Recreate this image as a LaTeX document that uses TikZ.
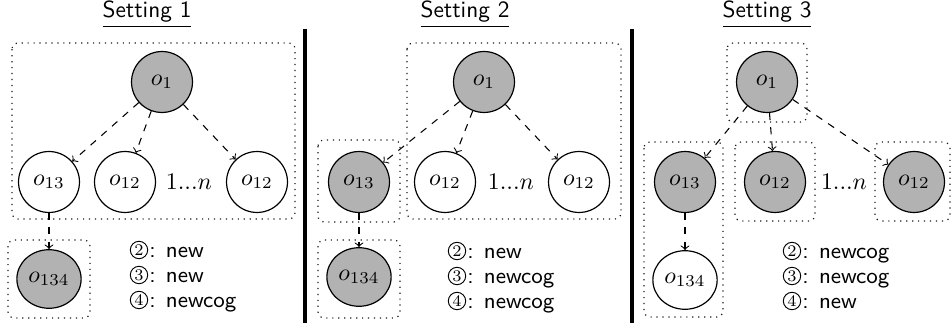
\documentclass[tikz,border=0pt]{standalone}
\usetikzlibrary{shapes.geometric}
\begin{document}
\begin{tikzpicture}[x=0.42pt,y=-0.42pt,
  obs/.style={circle,draw,line width=0.5pt,minimum size=25.6pt,inner sep=0pt},
  big/.style={ellipse,draw,line width=0.5pt,minimum width=27pt,minimum height=24.6pt,inner sep=0pt},
  known/.style={fill=gray!60},
  dep/.style={->,dashed,line width=0.45pt},
  grp/.style={dotted,draw=black!90,rounded corners=2.6pt,line width=0.5pt},
  sep/.style={line width=1.3pt},
  title/.style={anchor=base,inner sep=0pt,font=\fontsize{9.8pt}{12pt}\selectfont\sffamily},
  num/.style={circle,draw,line width=0.4pt,minimum size=7.3pt,inner sep=0pt,
    font=\fontsize{6.8pt}{7pt}\selectfont},
  lbl/.style={anchor=base west,inner sep=0pt,xshift=0.3pt,yshift=-3.1pt,
    font=\fontsize{9.4pt}{11pt}\selectfont\sffamily}]
\useasboundingbox (0,0) rectangle (952,329);

% ---------------- Setting 1 ----------------
\node[title] (t1) at (147,18) {\underline{Setting 1}};
\node[obs,known] (a1) at (162,82) {$o_1$};
\node[obs] (a13) at (49,182) {$o_{13}$};
\node[obs] (a12) at (125,182) {$o_{12}$};
\node (adots) at (189,182) {$1...n$};
\node[obs] (a12b) at (257,182) {$o_{12}$};
\node[big,known] (a134) at (49,279) {$o_{134}$};
\draw[dep] (a1) -- (a13);
\draw[dep] (a1) -- (a12);
\draw[dep] (a1) -- (a12b);
\draw[dep] (a13) -- (a134);
\draw[grp] (12,43) rectangle (295,219);
\draw[grp] (8,240) rectangle (90,318);
\node[num] (a2) at (139,250) {2};
\node[lbl] (a2t) at (a2.east) {: new};
\node[num] (a3) at (139,275) {3};
\node[lbl] (a3t) at (a3.east) {: new};
\node[num] (a4) at (139,300) {4};
\node[lbl] (a4t) at (a4.east) {: newcog};

\coordinate (v1a) at (305,29);
\coordinate (v1b) at (305,323);
\draw[sep] (v1a) -- (v1b);

% ---------------- Setting 2 ----------------
\node[title] (t2) at (465,18) {\underline{Setting 2}};
\node[obs,known] (b1) at (484,82) {$o_1$};
\node[obs,known] (b13) at (359,182) {$o_{13}$};
\node[obs] (b12) at (445,182) {$o_{12}$};
\node (bdots) at (511,182) {$1...n$};
\node[obs] (b12b) at (579,182) {$o_{12}$};
\node[big,known] (b134) at (359,277) {$o_{134}$};
\draw[dep] (b1) -- (b13);
\draw[dep] (b1) -- (b12);
\draw[dep] (b1) -- (b12b);
\draw[dep] (b13) -- (b134);
\draw[grp] (407,43) rectangle (621,219);
\draw[grp] (318,140) rectangle (400,222);
\draw[grp] (318,240) rectangle (400,318);
\node[num] (b2) at (457,251) {2};
\node[lbl] (b2t) at (b2.east) {: new};
\node[num] (b3) at (457,276) {3};
\node[lbl] (b3t) at (b3.east) {: newcog};
\node[num] (b4) at (457,301) {4};
\node[lbl] (b4t) at (b4.east) {: newcog};

\coordinate (v2a) at (632,29);
\coordinate (v2b) at (632,323);
\draw[sep] (v2a) -- (v2b);

% ---------------- Setting 3 ----------------
\node[title] (t3) at (767,18) {\underline{Setting 3}};
\node[obs,known] (c1) at (767,82) {$o_1$};
\node[obs,known] (c13) at (685,182) {$o_{13}$};
\node[obs,known] (c12) at (775,182) {$o_{12}$};
\node (cdots) at (844,182) {$1...n$};
\node[obs,known] (c12b) at (914,182) {$o_{12}$};
\node[big] (c134) at (685,280) {$o_{134}$};
\draw[dep] (c1) -- (c13);
\draw[dep] (c1) -- (c12);
\draw[dep] (c1) -- (c12b);
\draw[dep] (c13) -- (c134);
\draw[grp] (727,43) rectangle (807,122);
\draw[grp] (644,142) rectangle (723,317);
\draw[grp] (735,142) rectangle (815,221);
\draw[grp] (875,142) rectangle (950,221);
\node[num] (c2) at (792,251) {2};
\node[lbl] (c2t) at (c2.east) {: newcog};
\node[num] (c3) at (792,276) {3};
\node[lbl] (c3t) at (c3.east) {: newcog};
\node[num] (c4) at (792,301) {4};
\node[lbl] (c4t) at (c4.east) {: new};
\end{tikzpicture}
\end{document}
